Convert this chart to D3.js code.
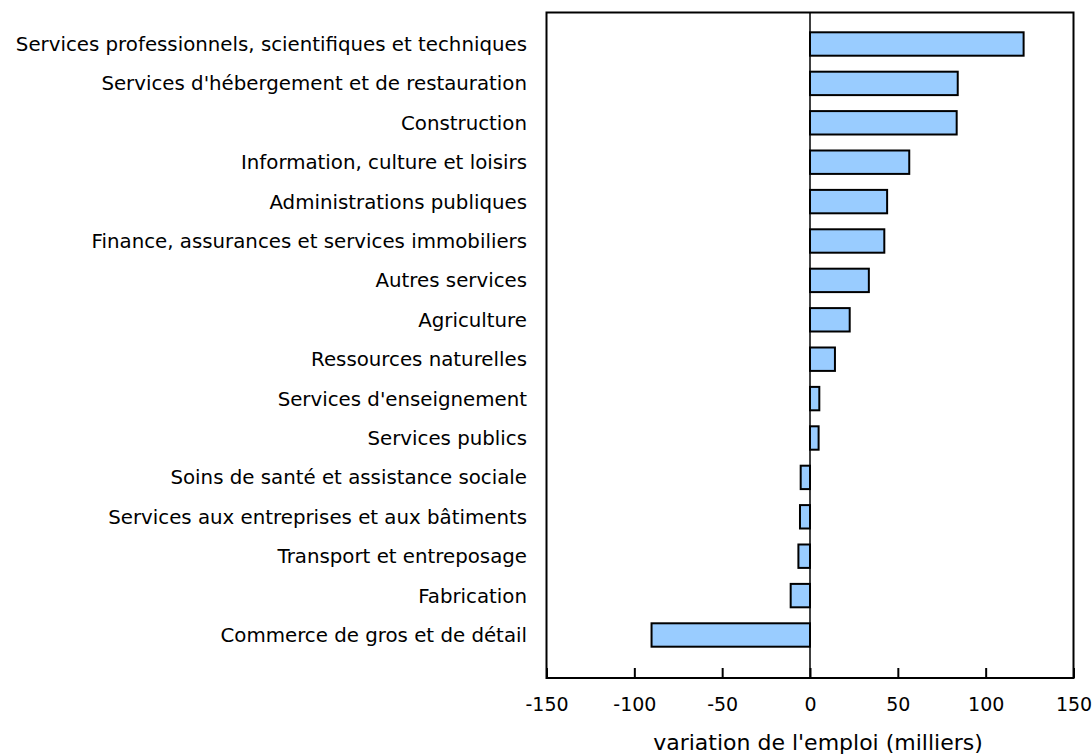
<!DOCTYPE html>
<html>
<head>
<meta charset="utf-8">
<script src="https://cdn.jsdelivr.net/npm/d3@7"></script>
<style>
body { margin: 0; background: #fff; }
text { font-family: "DejaVu Sans", Verdana, sans-serif; fill: #000; }
</style>
</head>
<body>
<div id="chart"></div>
<script>
// industries, top to bottom
var categories = [
  "Services professionnels, scientifiques et techniques",
  "Services d'hébergement et de restauration",
  "Construction",
  "Information, culture et loisirs",
  "Administrations publiques",
  "Finance, assurances et services immobiliers",
  "Autres services",
  "Agriculture",
  "Ressources naturelles",
  "Services d'enseignement",
  "Services publics",
  "Soins de santé et assistance sociale",
  "Services aux entreprises et aux bâtiments",
  "Transport et entreposage",
  "Fabrication",
  "Commerce de gros et de détail"
];
// employment change (thousands)
var values = [121.6, 84.1, 83.5, 56.5, 43.9, 42.3, 33.5, 22.6, 14.2, 5.3, 4.9, -5.3, -5.7, -6.6, -11.0, -90.2];
var xTicks = [-150, -100, -50, 0, 50, 100, 150];
var xTitle = "variation de l'emploi (milliers)";

var W = 1092, H = 754;
var plot = {left: 546.5, right: 1073.5, top: 12.5, bottom: 678};

var svg = d3.select("#chart").append("svg")
  .attr("width", W).attr("height", H);

var x = d3.scaleLinear().domain([-150, 150]).range([plot.left, plot.right]);
var y = d3.scaleBand().domain(categories).range([24.3, 654.7]).paddingInner(0.406).paddingOuter(0.203);

// frame
svg.append("rect")
  .attr("x", plot.left).attr("y", plot.top)
  .attr("width", plot.right - plot.left).attr("height", plot.bottom - plot.top)
  .attr("fill", "none").attr("stroke", "#000").attr("stroke-width", 2);

// bars
svg.selectAll(".bar").data(values).enter().append("rect")
  .attr("class", "bar")
  .attr("x", function(d) { return x(Math.min(0, d)); })
  .attr("y", function(d, i) { return y(categories[i]); })
  .attr("width", function(d) { return Math.abs(x(d) - x(0)); })
  .attr("height", y.bandwidth())
  .attr("fill", "#99ccff").attr("stroke", "#000").attr("stroke-width", 2);

// zero line
svg.append("line")
  .attr("x1", x(0)).attr("x2", x(0))
  .attr("y1", plot.top).attr("y2", plot.bottom)
  .attr("stroke", "#000").attr("stroke-width", 1.5);

// x axis, ticks pointing inward
var xAxis = svg.append("g")
  .attr("transform", "translate(0," + plot.bottom + ")")
  .call(d3.axisBottom(x).tickValues(xTicks)
    .tickFormat(function(d) { return String(d); })
    .tickSizeInner(-10).tickSizeOuter(0).tickPadding(20));
xAxis.select(".domain").remove();
xAxis.selectAll("line").attr("stroke", "#000").attr("stroke-width", 2);
xAxis.selectAll("text").attr("font-size", 19).attr("font-family", "DejaVu Sans, Verdana, sans-serif");

// category labels
svg.selectAll(".lab").data(categories).enter().append("text")
  .attr("class", "lab")
  .attr("x", 527)
  .attr("y", function(d) { return y(d) + y.bandwidth() / 2; })
  .attr("dy", "0.35em")
  .attr("text-anchor", "end")
  .attr("font-size", 19.8)
  .text(function(d) { return d; });

// axis title
svg.append("text")
  .attr("x", 818).attr("y", 750)
  .attr("text-anchor", "middle")
  .attr("font-size", 22)
  .text(xTitle);
</script>
</body>
</html>
